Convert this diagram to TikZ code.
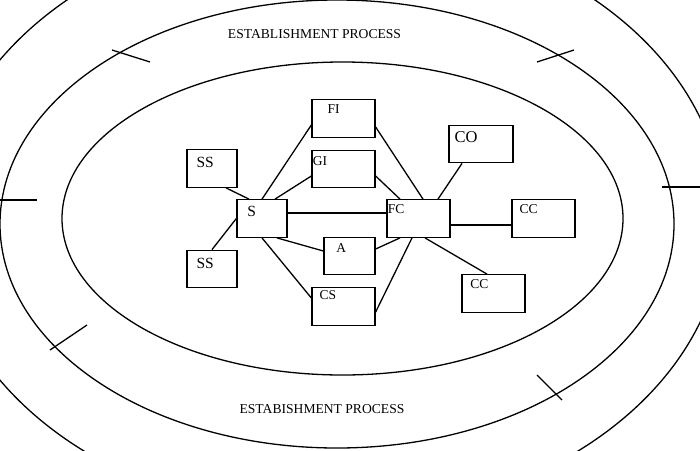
\documentclass[tikz,border=0pt]{standalone}
\usepackage{fontspec}
\setmainfont{Liberation Serif}
\usetikzlibrary{positioning, calc}

\begin{document}
\begin{tikzpicture} [
    x=1pt, y=-1pt,
    ring/.style={draw=black, line width=1.3pt},
    tick/.style={draw=black, line width=1.3pt},
    blk/.style={rectangle, draw=black, line width=1.3pt, minimum width=63pt, minimum height=37.5pt, inner sep=0pt},
    sblk/.style={blk, minimum width=50pt},
    lbl/.style={anchor=north west, inner sep=0pt, font=\fontsize{13.5}{16}\selectfont},
    biglbl/.style={lbl, font=\fontsize{15.5}{18}\selectfont},
    link/.style={draw=black, line width=1.3pt},
    proc/.style={font=\fontsize{13.6}{16}\selectfont, inner sep=0pt}
]
\useasboundingbox (0,0) rectangle (700,450);

% Rings with their ticks
\begin{scope}
    \clip (0,0) rectangle (700,450);
    \draw[ring] (331,220) ellipse [x radius=393pt, y radius=297pt];
    \draw[ring] (337,224) ellipse [x radius=337pt, y radius=224pt];
    \draw[ring] (342.5,218.5) ellipse [x radius=280.5pt, y radius=156.5pt];
    \draw[tick] (112,50) -- (150,62);
    \draw[tick] (537,62) -- (574,50);
    \draw[tick] (0,200) -- (37,200);
    \draw[tick] (662,187) -- (700,187);
    \draw[tick] (50,350) -- (87,325);
    \draw[tick] (537,375) -- (562,400);
\end{scope}

% Ring texts
\node[proc] (top) at (314.5,34) {ESTABLISHMENT PROCESS};
\node[proc] (bottom) at (322,409) {ESTABISHMENT PROCESS};

% Boxes
\node[blk, label={[lbl, xshift=16pt, yshift=-5pt]north west:FI}] (FI) at (343.5,118.5) {};
\node[blk, label={[lbl, xshift=1.3pt, yshift=-6.7pt]north west:GI}] (GI) at (343.5,169) {};
\node[sblk, label={[biglbl, xshift=10pt, yshift=-8pt]north west:SS}] (SSa) at (212,168.5) {};
\node[sblk, label={[biglbl, xshift=10.7pt, yshift=-7.3pt]north west:S}] (S) at (262,218.5) {};
\node[sblk, label={[biglbl, xshift=10pt, yshift=-8pt]north west:SS}] (SSb) at (212,269) {};
\node[sblk, minimum width=51pt, label={[lbl, xshift=12.7pt, yshift=-7pt]north west:A}] (A) at (349.5,256) {};
\node[blk, label={[lbl, xshift=8pt, yshift=-3.7pt]north west:CS}] (CS) at (343.5,306.5) {};
\node[blk, label={[lbl, xshift=1.3pt, yshift=-5pt]north west:FC}] (FC) at (418.5,218.5) {};
\node[blk, minimum width=64pt, label={[lbl, font=\fontsize{16.5}{19}\selectfont, xshift=6pt, yshift=-6.7pt]north west:CO}] (CO) at (481,144) {};
\node[blk, label={[lbl, xshift=8pt, yshift=-5pt]north west:CC}] (CCa) at (543.5,218.5) {};
\node[blk, label={[lbl, xshift=8.7pt, yshift=-5.7pt]north west:CC}] (CCb) at (493.5,293.5) {};

% Links
\draw[link] ([xshift=14pt]SSa.south) -- ([xshift=-13pt]S.north);
\draw[link] (SSb.north) -- (S.west);
\draw[link] (S.north) -- ([yshift=-6.5pt]FI.west);
\draw[link] ([xshift=13pt]S.north) -- ([yshift=-7pt]GI.west);
\draw[link] ([yshift=5.5pt]S.east) -- ([yshift=5.5pt]FC.west);
\draw[link] ([xshift=15pt]S.south) -- ([yshift=5pt]A.west);
\draw[link] (S.south) -- ([yshift=8.5pt]CS.west);
\draw[link] ([yshift=-8.5pt]FI.east) -- ([xshift=4.5pt]FC.north);
\draw[link] ([yshift=-7pt]GI.east) -- ([xshift=-18.5pt]FC.north);
\draw[link] ([yshift=7pt]A.east) -- ([xshift=-18.5pt]FC.south);
\draw[link] ([yshift=-5.5pt]CS.east) -- ([xshift=-6.5pt]FC.south);
\draw[link] ([xshift=19.5pt]FC.north) -- ([xshift=-19pt]CO.south);
\draw[link] ([yshift=-6.5pt]FC.east) -- ([yshift=-6.5pt]CCa.west);
\draw[link] ([xshift=6.5pt]FC.south) -- ([xshift=-6.5pt]CCb.north);

\end{tikzpicture}
\end{document}
